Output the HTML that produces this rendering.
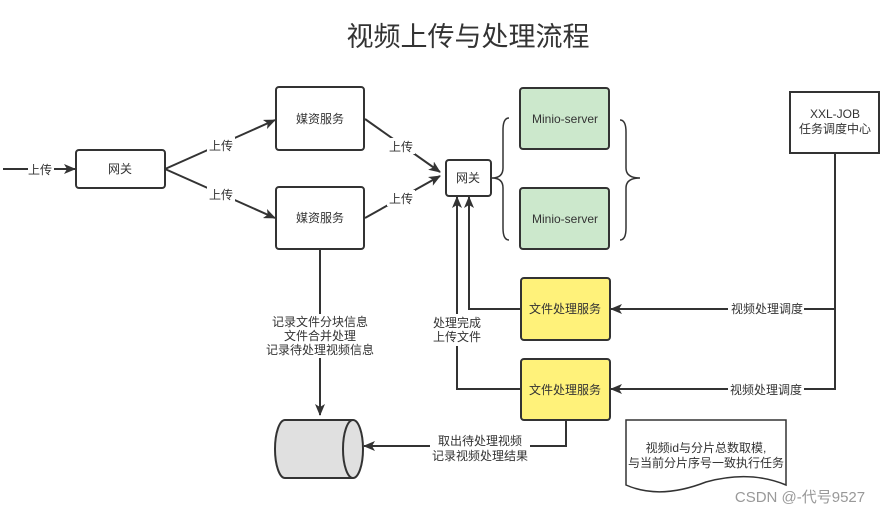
<!DOCTYPE html>
<html><head><meta charset="utf-8"><style>
html,body{margin:0;padding:0;background:#fff}
svg{display:block}
text{font-family:"Liberation Sans","Noto Sans CJK SC",sans-serif;fill:#333}
</style></head><body>
<svg width="886" height="514" viewBox="0 0 886 514" xmlns="http://www.w3.org/2000/svg">
<defs>
<marker id="a" markerWidth="12" markerHeight="10" refX="11" refY="5" orient="auto" markerUnits="userSpaceOnUse">
<path d="M0,0 L12,5 L0,10 L3,5 Z" fill="#333"/></marker>
</defs>
<text x="468" y="46" font-size="27" text-anchor="middle" fill="#333">视频上传与处理流程</text>
<g stroke="#333" stroke-width="2" fill="none">
<line x1="3" y1="169" x2="75" y2="169" marker-end="url(#a)"/>
<line x1="165" y1="169" x2="275" y2="120" marker-end="url(#a)"/>
<line x1="165" y1="169" x2="275" y2="218" marker-end="url(#a)"/>
<line x1="365" y1="119" x2="440" y2="172" marker-end="url(#a)"/>
<line x1="365" y1="218" x2="440" y2="176" marker-end="url(#a)"/>
<polyline points="835,153 835,389 611,389" marker-end="url(#a)"/>
<line x1="835" y1="309" x2="611" y2="309" marker-end="url(#a)"/>
<polyline points="521,309 469,309 469,197" marker-end="url(#a)"/>
<polyline points="521,389 457,389 457,197" marker-end="url(#a)"/>
<line x1="320" y1="249" x2="320" y2="415" marker-end="url(#a)"/>
<polyline points="566,420 566,446 364,446" marker-end="url(#a)"/>
<path d="M509,118 Q503,118 503,130 L503,168 Q503,178 492,178 Q503,178 503,188 L503,228 Q503,240 509,240" stroke-width="1.5"/>
<path d="M620,120 Q626,120 626,132 L626,168 Q626,178 640,178 Q626,178 626,188 L626,228 Q626,240 620,240" stroke-width="1.5"/>
</g>
<g stroke="#333" stroke-width="2">
<rect x="76" y="150" width="89" height="38" rx="3" fill="#fff"/>
<rect x="276" y="87" width="88" height="63" rx="3" fill="#fff"/>
<rect x="276" y="187" width="88" height="62" rx="3" fill="#fff"/>
<rect x="446" y="160" width="45" height="36" rx="3" fill="#fff"/>
<rect x="520" y="88" width="89" height="61" rx="3" fill="#cce8cc"/>
<rect x="520" y="188" width="89" height="61" rx="3" fill="#cce8cc"/>
<rect x="790" y="92" width="89" height="61" fill="#fff"/>
<rect x="521" y="278" width="89" height="62" rx="3" fill="#fff27a"/>
<rect x="521" y="359" width="89" height="61" rx="3" fill="#fff27a"/>
<path d="M285,420 L353,420 A10,29 0 0 1 353,478 L285,478 A10,29 0 0 1 285,420 Z" fill="#e0e0e0"/>
<path d="M353,420 A10,29 0 0 0 353,478" fill="none"/>
<path d="M626,420 L786,420 L786,485 Q750,470 706,482 Q660,500 626,485 Z" fill="#fff" stroke-width="1.5"/>
</g>
<g font-size="12" text-anchor="middle">
<rect x="28" y="161" width="26" height="16" fill="#fff"/><text x="40" y="174">上传</text>
<rect x="207" y="137" width="28" height="16" fill="#fff"/><text x="221" y="150">上传</text>
<rect x="207" y="186" width="28" height="16" fill="#fff"/><text x="221" y="199">上传</text>
<rect x="387" y="138" width="28" height="16" fill="#fff"/><text x="401" y="151">上传</text>
<rect x="387" y="190" width="28" height="16" fill="#fff"/><text x="401" y="203">上传</text>
<text x="120" y="173">网关</text>
<text x="320" y="123">媒资服务</text>
<text x="320" y="222">媒资服务</text>
<text x="468" y="182">网关</text>
<text x="565" y="123">Minio-server</text>
<text x="565" y="223">Minio-server</text>
<text x="835" y="118">XXL-JOB</text>
<text x="835" y="133">任务调度中心</text>
<text x="565" y="313">文件处理服务</text>
<text x="565" y="394">文件处理服务</text>
<rect x="728" y="300" width="76" height="16" fill="#fff"/><text x="767" y="313">视频处理调度</text>
<rect x="728" y="381" width="76" height="16" fill="#fff"/><text x="766" y="394">视频处理调度</text>
<rect x="430" y="314" width="54" height="32" fill="#fff"/>
<text x="457" y="327">处理完成</text><text x="457" y="341">上传文件</text>
<rect x="268" y="314" width="104" height="44" fill="#fff"/>
<text x="320" y="326">记录文件分块信息</text>
<text x="320" y="340">文件合并处理</text>
<text x="320" y="354">记录待处理视频信息</text>
<rect x="430" y="432" width="100" height="30" fill="#fff"/>
<text x="480" y="445">取出待处理视频</text>
<text x="480" y="460">记录视频处理结果</text>
<text x="706" y="452">视频id与分片总数取模,</text>
<text x="706" y="467">与当前分片序号一致执行任务</text>
</g>
<text x="800" y="502" font-size="15" text-anchor="middle" style="fill:#999">CSDN @-代号9527</text>
</svg>
</body></html>
